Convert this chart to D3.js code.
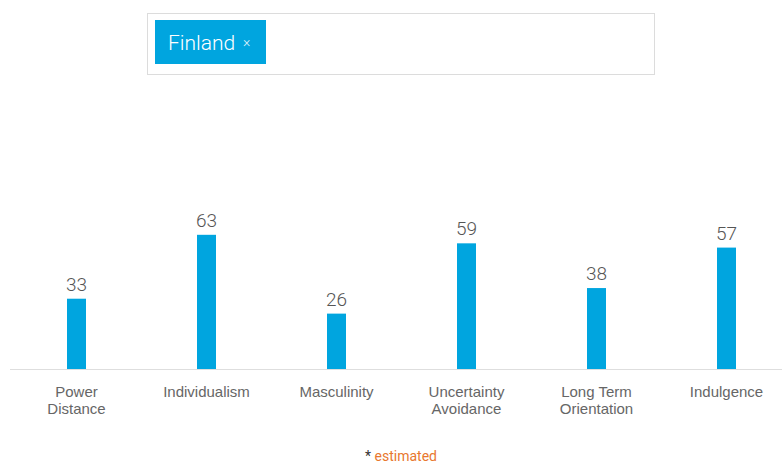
<!DOCTYPE html>
<html>
<head>
<meta charset="utf-8">
<script src="https://cdn.jsdelivr.net/npm/d3@7"></script>
<style>
  body { margin: 0; background: #fff; }
  svg { display: block; }
</style>
</head>
<body>
<div id="chart"></div>
<script>
const country = "Finland";
const dimensions = [["Power", "Distance"], ["Individualism"], ["Masculinity"], ["Uncertainty", "Avoidance"], ["Long Term", "Orientation"], ["Indulgence"]];
const scores = [33, 63, 26, 59, 38, 57];

const width = 782, height = 464;
const baseY = 369;
const blue = "#00a5df";

const svg = d3.select("#chart").append("svg")
  .attr("width", width)
  .attr("height", height);

// country selector box
svg.append("rect")
  .attr("x", 147.5).attr("y", 13.5)
  .attr("width", 507).attr("height", 61)
  .attr("fill", "#fff")
  .attr("stroke", "#dcdcdc");

svg.append("rect")
  .attr("x", 155).attr("y", 20)
  .attr("width", 111).attr("height", 44)
  .attr("fill", blue);

svg.append("text")
  .attr("x", 168).attr("y", 50)
  .attr("fill", "#fff")
  .style("font-family", "Roboto, sans-serif")
  .style("font-weight", 300)
  .style("font-size", "21px")
  .text(country);

svg.append("text")
  .attr("x", 243).attr("y", 47)
  .attr("fill", "#e6f6fc")
  .style("font-family", "Roboto, sans-serif")
  .style("font-weight", 300)
  .style("font-size", "14px")
  .text("×");

// scales
const x = d3.scaleBand()
  .domain(d3.range(scores.length))
  .range([11.5, 791.5])
  .padding(0);

const y = d3.scaleLinear()
  .domain([0, 100])
  .range([baseY, baseY - 213]);

const barW = 19;

// baseline
svg.append("line")
  .attr("x1", 10).attr("x2", width)
  .attr("y1", baseY + 0.5).attr("y2", baseY + 0.5)
  .attr("stroke", "#dedede");

const g = svg.append("g");

g.selectAll("rect.bar")
  .data(scores)
  .enter()
  .append("rect")
  .attr("class", "bar")
  .attr("x", (d, i) => x(i) + x.bandwidth() / 2 - barW / 2)
  .attr("y", d => y(d))
  .attr("width", barW)
  .attr("height", d => baseY - y(d))
  .attr("fill", blue);

g.selectAll("text.val")
  .data(scores)
  .enter()
  .append("text")
  .attr("class", "val")
  .attr("x", (d, i) => x(i) + x.bandwidth() / 2)
  .attr("y", d => y(d) - 8)
  .attr("text-anchor", "middle")
  .attr("fill", "#555")
  .style("font-family", "Roboto, sans-serif")
  .style("font-weight", 300)
  .style("font-size", "19px")
  .text(d => d);

const labels = g.selectAll("text.cat")
  .data(dimensions)
  .enter()
  .append("text")
  .attr("class", "cat")
  .attr("x", (d, i) => x(i) + x.bandwidth() / 2)
  .attr("y", 397)
  .attr("text-anchor", "middle")
  .attr("fill", "#666")
  .style("font-family", "'Liberation Sans', Arial, sans-serif")
  .style("font-size", "15px");

labels.selectAll("tspan")
  .data(d => d)
  .enter()
  .append("tspan")
  .attr("x", function () { return d3.select(this.parentNode).attr("x"); })
  .attr("dy", (d, i) => i === 0 ? 0 : 17)
  .text(d => d);

// footnote
const note = svg.append("text")
  .attr("x", 401).attr("y", 461)
  .attr("text-anchor", "middle")
  .style("font-family", "Roboto, sans-serif")
  .style("font-size", "14px");
note.append("tspan").attr("fill", "#333").text("* ");
note.append("tspan").attr("fill", "#e8772e").text("estimated");
</script>
</body>
</html>
